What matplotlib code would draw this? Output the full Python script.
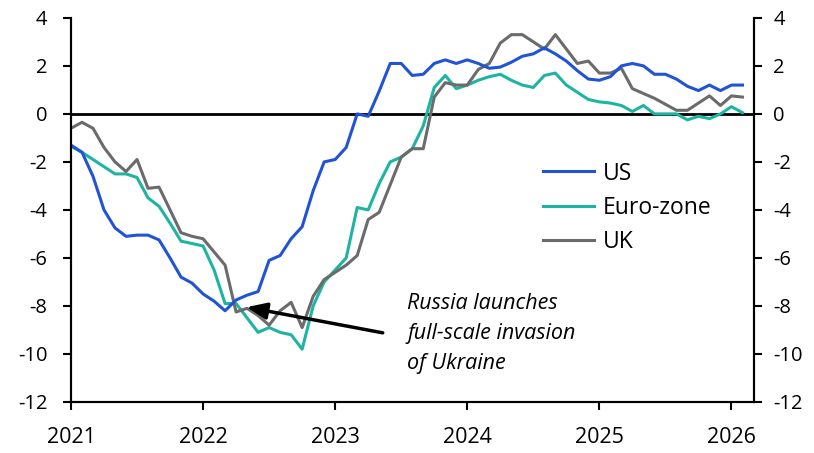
import numpy as np
import matplotlib
matplotlib.use("Agg")
import matplotlib.pyplot as plt

plt.rcParams['font.family'] = ['Open Sans', 'DejaVu Sans']
plt.rcParams['axes.unicode_minus'] = False

# monthly values, Jan 2021 .. Feb 2026
us = [-1.3, -1.6, -2.6, -4.0, -4.75, -5.1, -5.05, -5.05, -5.25, -6.0, -6.8, -7.05,
      -7.5, -7.8, -8.2, -7.75, -7.55, -7.4, -6.1, -5.9, -5.2, -4.7, -3.2, -2.0,
      -1.9, -1.4, 0.0, -0.1, 0.95, 2.1, 2.1, 1.6, 1.65, 2.1, 2.25, 2.1,
      2.25, 2.1, 1.9, 1.95, 2.15, 2.4, 2.5, 2.75, 2.5, 2.2, 1.8, 1.45,
      1.4, 1.55, 2.0, 2.1, 2.0, 1.65, 1.65, 1.45, 1.15, 0.97, 1.2, 0.97,
      1.2, 1.2]
ez = [-1.35, -1.6, -1.9, -2.2, -2.5, -2.5, -2.65, -3.5, -3.85, -4.55, -5.3, -5.4,
      -5.5, -6.5, -7.9, -7.9, -8.5, -9.1, -8.9, -9.1, -9.2, -9.8, -8.0, -7.0,
      -6.5, -6.0, -3.9, -4.0, -2.9, -2.0, -1.8, -1.45, -0.5, 1.1, 1.6, 1.05,
      1.2, 1.4, 1.55, 1.65, 1.4, 1.2, 1.1, 1.6, 1.7, 1.2, 0.9, 0.6,
      0.5, 0.45, 0.35, 0.1, 0.35, 0.0, 0.0, 0.0, -0.25, -0.1, -0.2, 0.0,
      0.3, 0.05]
uk = [-0.6, -0.35, -0.6, -1.4, -2.0, -2.4, -1.9, -3.1, -3.05, -4.0, -4.95, -5.1,
      -5.2, -5.75, -6.3, -8.25, -8.1, -8.4, -8.8, -8.2, -7.85, -8.9, -7.6, -6.9,
      -6.6, -6.3, -5.9, -4.4, -4.1, -2.95, -1.8, -1.45, -1.45, 0.7, 1.3, 1.2,
      1.2, 1.85, 2.1, 2.95, 3.3, 3.3, 3.0, 2.7, 3.3, 2.7, 2.1, 2.2,
      1.7, 1.7, 1.9, 1.05, 0.85, 0.65, 0.4, 0.15, 0.15, 0.45, 0.75, 0.35,
      0.75, 0.7]
x = 2021 + np.arange(len(us)) / 12

year_ticks = [2021, 2022, 2023, 2024, 2025, 2026]
y_ticks = [-12, -10, -8, -6, -4, -2, 0, 2, 4]

fig = plt.figure(figsize=(8.14, 4.53), dpi=100)
ax = fig.add_axes([0.0872, 0.1126, 0.839, 0.848])

ax.axhline(0, color='black', lw=2, zorder=1)
ax.plot(x, us, color='#2153d6', lw=2.2, label='US', zorder=3)
ax.plot(x, ez, color='#1db5a2', lw=2.2, label='Euro-zone', zorder=2)
ax.plot(x, uk, color='#6b6b6b', lw=2.2, label='UK', zorder=2)

ax.set_xlim(2021, 2026.17)
ax.set_ylim(-12, 4)
ax.set_xticks(year_ticks)
ax.set_yticks(y_ticks)

ax2 = ax.twinx()
ax2.set_ylim(-12, 4)
ax2.set_yticks(y_ticks)

for a in (ax, ax2):
    a.spines['top'].set_visible(False)
    for s in a.spines.values():
        s.set_linewidth(1.5)
    a.tick_params(direction='out', length=6, width=1.5, labelsize=14.5, pad=11)
ax.tick_params(axis='x', labelsize=15.5, pad=12)
ax2.tick_params(axis='y', pad=8)

ax.legend(loc='upper left', bbox_to_anchor=(0.691, 0.626), frameon=False,
          fontsize=16.5, handlelength=2.25, handletextpad=0.35,
          labelspacing=0.45, borderpad=0, borderaxespad=0)

# annotation: text and arrow drawn separately
ax.text(2023.545, -9.15, 'Russia launches\nfull-scale invasion\nof Ukraine',
        fontsize=15.5, style='italic', ha='left', va='center', linespacing=1.55)
ax.annotate('', xy=(2022.33, -8.05), xytext=(2023.36, -9.12),
            arrowprops=dict(arrowstyle='-|>,head_length=1.2,head_width=0.5',
                            color='black', lw=2.5, shrinkA=0, shrinkB=0),
            zorder=5)

fig.savefig('out.png', dpi=100)
